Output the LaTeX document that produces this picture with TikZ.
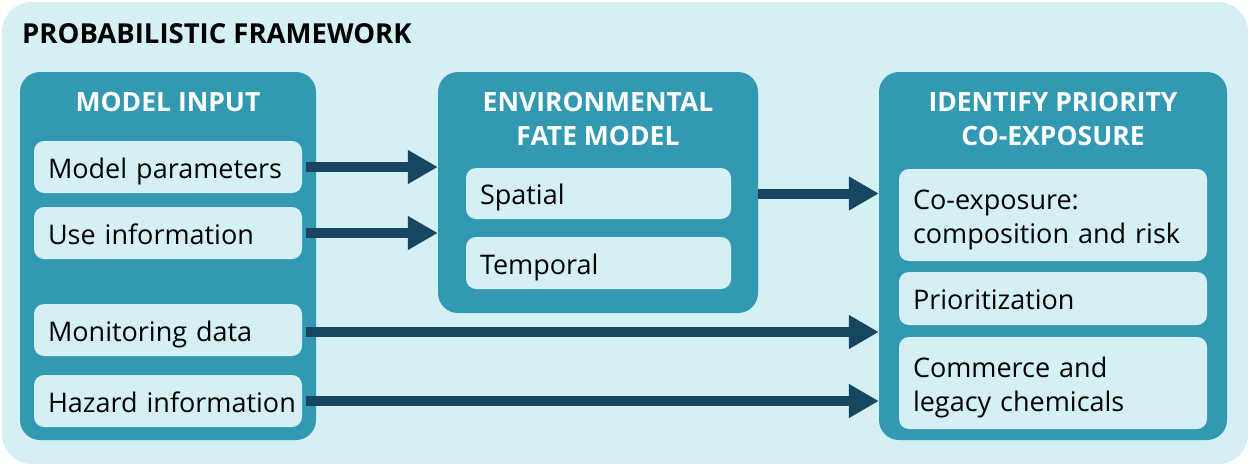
\documentclass[tikz,border=0pt]{standalone}
\usepackage{fontspec}
\setmainfont{Open Sans}
\usetikzlibrary{arrows.meta}
\definecolor{bglight}{RGB}{212,240,245}
\definecolor{midteal}{RGB}{51,153,179}
\definecolor{darkarrow}{RGB}{23,71,96}
\tikzset{
  outerbox/.style={fill=bglight, rounded corners=30pt, draw=none},
  groupbox/.style={fill=midteal, rounded corners=20pt, draw=none, inner sep=0pt},
  itembox/.style={fill=bglight, rounded corners=10pt, draw=none, inner xsep=14pt, inner ysep=0pt,
     align=left, font=\fontsize{27}{34}\selectfont, text=black},
  oneline/.style={itembox, text height=24pt, text depth=2pt},
  twoline/.style={itembox, text height=20pt, text depth=32pt},
  grouptitle/.style={text=white, font=\bfseries\fontsize{26.5}{34}\selectfont, align=center, inner sep=0pt},
  arr/.style={draw=darkarrow, line width=10pt, -{Triangle[length=30pt,width=32pt]}}
}
\begin{document}
\begin{tikzpicture}[x=1pt,y=-1pt]
\useasboundingbox (0,0) rectangle (1250,466);
\fill[white] (0,0) rectangle (1250,466);
\node[outerbox, minimum width=1246pt, minimum height=462pt] (bg) at (625,233) {};
\node[anchor=west, inner sep=0pt, font=\bfseries\fontsize{27.5}{30}\selectfont] (title) at (22,34) {PROBABILISTIC FRAMEWORK};

% groups
\node[groupbox, minimum width=296pt, minimum height=368pt] (inp) at (168,256) {};
\node[groupbox, minimum width=320pt, minimum height=241pt] (env) at (598,192.5) {};
\node[groupbox, minimum width=348pt, minimum height=368pt] (idf) at (1053,256) {};

\node[grouptitle] (inpt) at (168,102) {MODEL INPUT};
\node[grouptitle] (envt) at (598,119) {ENVIRONMENTAL\\FATE MODEL};
\node[grouptitle] (idft) at (1053,119) {IDENTIFY PRIORITY\\CO-EXPOSURE};

% model input items
\node[oneline, minimum width=268pt, minimum height=52pt, text width=240pt] (mp) at (168,167) {Model parameters};
\node[oneline, minimum width=268pt, minimum height=52pt, text width=240pt] (ui) at (168,233) {Use information};
\node[oneline, minimum width=268pt, minimum height=52pt, text width=240pt] (md) at (168,330) {Monitoring data};
\node[oneline, minimum width=268pt, minimum height=52pt, text width=240pt] (hi) at (168,401) {\mbox{Hazard information}};

% fate model items
\node[oneline, minimum width=265pt, minimum height=51pt, text width=237pt] (sp) at (598.5,193.5) {Spatial};
\node[oneline, minimum width=265pt, minimum height=52pt, text width=237pt] (tp) at (598.5,263) {Temporal};

% priority items
\node[twoline, minimum width=308pt, minimum height=92pt, text width=280pt] (ce) at (1053,215) {Co-exposure:\\composition and risk};
\node[oneline, minimum width=308pt, minimum height=53pt, text width=280pt] (pr) at (1053,298.5) {Prioritization};
\node[twoline, minimum width=308pt, minimum height=92pt, text width=280pt] (cm) at (1053,383) {Commerce and\\legacy chemicals};

% arrows
\draw[arr] ([xshift=4pt]mp.east) -- (mp.east -| env.west);
\draw[arr] ([xshift=4pt]ui.east) -- (ui.east -| env.west);
\draw[arr] (sp.east -| env.east) -- (sp.east -| idf.west);
\draw[arr] ([xshift=4pt,yshift=-2pt]md.east) -- ([yshift=-2pt]md.east -| idf.west);
\draw[arr] ([xshift=4pt]hi.east) -- (hi.east -| idf.west);
\end{tikzpicture}
\end{document}
